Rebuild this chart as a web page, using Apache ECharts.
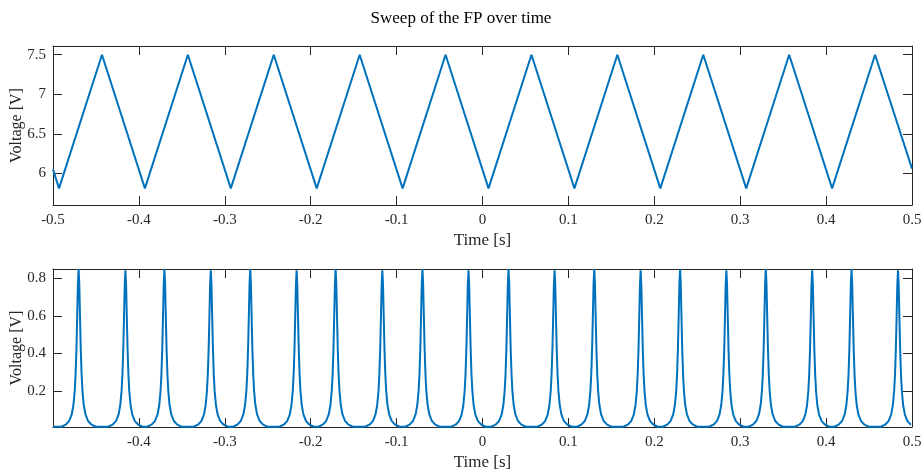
<!DOCTYPE html>
<html>
<head>
<meta charset="utf-8">
<script src="https://cdn.jsdelivr.net/npm/echarts@6/dist/echarts.min.js"></script>
<style>html,body{margin:0;padding:0;background:#fff}#c{width:922px;height:470px}</style>
</head>
<body>
<div id="c"></div>
<script>
// ---- Data ----
const titleText = 'Sweep of the FP over time';
const xName = 'Time [s]';
const yName = 'Voltage [V]';

// Top: triangular sweep voltage (vertices)
const sweepTimes = [-0.5, -0.493, -0.443, -0.393, -0.343, -0.293, -0.243, -0.193, -0.143, -0.093, -0.043,
  0.007, 0.057, 0.107, 0.157, 0.207, 0.257, 0.307, 0.357, 0.407, 0.457, 0.5];
const sweepVolts = [6.05, 5.81, 7.5, 5.81, 7.5, 5.81, 7.5, 5.81, 7.5, 5.81, 7.5,
  5.81, 7.5, 5.81, 7.5, 5.81, 7.5, 5.81, 7.5, 5.81, 7.5, 6.06];
const topYTicks = [6, 6.5, 7, 7.5];

// Bottom: FP transmission peaks
const peakTimes = [-0.4702, -0.4157, -0.3703, -0.3163, -0.2704, -0.2164, -0.1710, -0.1166, -0.0699, -0.0163,
  0.0303, 0.0839, 0.1301, 0.1841, 0.2300, 0.2839, 0.3298, 0.3838, 0.4296, 0.4837];
const peakHeights = [0.85, 0.843, 0.85, 0.843, 0.85, 0.843, 0.85, 0.843, 0.85, 0.843,
  0.85, 0.843, 0.85, 0.843, 0.85, 0.843, 0.85, 0.843, 0.85, 0.843];
// peak shape read from one peak: offset (s) and fraction of the peak height
const shapeOffsets = [-0.02, -0.015, -0.011, -0.008, -0.006, -0.0045, -0.0035, -0.0025, -0.0015, -0.0008, 0,
  0.0008, 0.0015, 0.0025, 0.0035, 0.0045, 0.006, 0.008, 0.011, 0.015, 0.02];
const shapeFractions = [0.011, 0.024, 0.047, 0.088, 0.147, 0.236, 0.338, 0.5, 0.735, 0.907, 1,
  0.907, 0.735, 0.5, 0.338, 0.236, 0.147, 0.088, 0.047, 0.024, 0.011];
const bottomStart = [-0.4999, 0.009];
const bottomYTicks = [0.2, 0.4, 0.6, 0.8];
const xTicksBottom = [-0.4, -0.3, -0.2, -0.1, 0, 0.1, 0.2, 0.3, 0.4, 0.5];

// ---- Build series ----
const topData = sweepTimes.map((t, i) => [t, sweepVolts[i]]);
const botData = [bottomStart];
peakTimes.forEach((c, k) => {
  shapeOffsets.forEach((o, j) => {
    const t = c + o;
    if (t <= 0.5) botData.push([t, shapeFractions[j] * peakHeights[k]]);
  });
});

const ax = '#262626';
const font = 'Liberation Serif, Times New Roman, serif';
function xAxisDef(grid, top, showLabels, customLabels) {
  return {
    type: 'value', gridIndex: grid, position: top ? 'top' : 'bottom',
    min: -0.5, max: 0.5, interval: 0.1,
    name: showLabels ? xName : '', nameLocation: 'middle', nameGap: 27,
    nameTextStyle: { fontFamily: font, fontSize: 17, color: ax },
    axisLine: { show: true, onZero: false, lineStyle: { color: ax, width: 1 } },
    axisTick: { show: true, inside: true, length: 9, lineStyle: { color: ax } },
    axisLabel: Object.assign({ show: showLabels, fontFamily: font, fontSize: 15, color: ax, margin: 8 },
      customLabels ? { customValues: customLabels } : {}),
    splitLine: { show: false }
  };
}
function yAxisDef(grid, right, min, max, ticks, showLabels) {
  return {
    type: 'value', gridIndex: grid, position: right ? 'right' : 'left',
    min: min, max: max,
    name: showLabels ? yName : '', nameLocation: 'middle', nameGap: 28, nameMoveOverlap: false,
    nameTextStyle: { fontFamily: font, fontSize: 16, color: ax },
    axisLine: { show: true, onZero: false, lineStyle: { color: ax, width: 1 } },
    axisTick: { show: true, inside: true, length: 9, lineStyle: { color: ax }, customValues: ticks },
    axisLabel: { show: showLabels, fontFamily: font, fontSize: 15, color: ax, margin: 7, customValues: ticks },
    splitLine: { show: false }
  };
}

const chart = echarts.init(document.getElementById('c'), null, { renderer: 'canvas' });
chart.setOption({
  animation: false,
  backgroundColor: '#fff',
  title: { text: titleText, left: 'center', top: 5,
    textStyle: { fontFamily: font, fontSize: 17, fontWeight: 'normal', color: '#000' } },
  grid: [
    { left: 53, right: 10, top: 46, height: 159, outerBoundsMode: 'none' },
    { left: 53, right: 10, top: 269, height: 158, outerBoundsMode: 'none' }
  ],
  xAxis: [
    xAxisDef(0, false, true),
    xAxisDef(0, true, false),
    xAxisDef(1, false, true, xTicksBottom),
    xAxisDef(1, true, false)
  ],
  yAxis: [
    yAxisDef(0, false, 5.6, 7.61, topYTicks, true),
    yAxisDef(0, true, 5.6, 7.61, topYTicks, false),
    yAxisDef(1, false, 0.008, 0.85, bottomYTicks, true),
    yAxisDef(1, true, 0.008, 0.85, bottomYTicks, false)
  ],
  series: [
    { type: 'line', xAxisIndex: 0, yAxisIndex: 0, data: topData, showSymbol: false,
      lineStyle: { color: '#0072BD', width: 2 } },
    { type: 'line', xAxisIndex: 2, yAxisIndex: 2, data: botData, showSymbol: false, sampling: null,
      lineStyle: { color: '#0072BD', width: 2 } }
  ]
});
</script>
</body>
</html>
